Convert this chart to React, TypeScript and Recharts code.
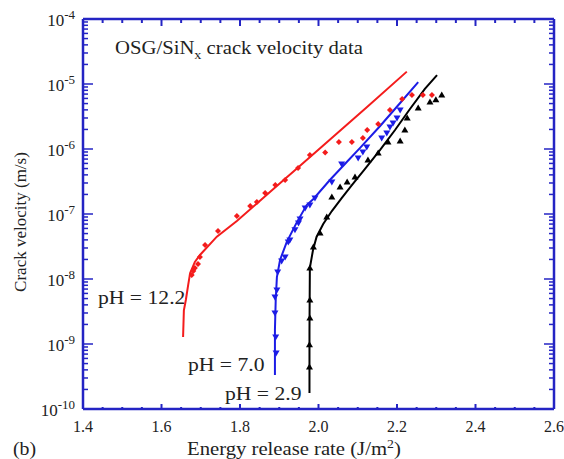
import {
  ComposedChart,
  Customized,
  Line,
  Scatter,
  XAxis,
  YAxis,
} from "recharts";

const AXIS = "#2424c4";
const RED = "#f41c1c";
const BLUE = "#1c1ce6";
const BLACK = "#000000";
const FONT = "'Liberation Serif', 'Times New Roman', serif";

// x ticks every 0.05, labels every 0.2
const xTicks = [
  1.4, 1.45, 1.5, 1.55, 1.6, 1.65, 1.7, 1.75, 1.8, 1.85, 1.9, 1.95, 2.0, 2.05,
  2.1, 2.15, 2.2, 2.25, 2.3, 2.35, 2.4, 2.45, 2.5, 2.55, 2.6,
];
const xLabels = [1.4, 1.6, 1.8, 2.0, 2.2, 2.4, 2.6];
const yDecades = [-10, -9, -8, -7, -6, -5, -4];
const yMinor = [2, 3, 4, 5, 6, 7, 8, 9];

// fitted curves
const redFit = [
  [1.655, 1.28e-9], [1.657, 3.3e-9], [1.662, 4.75e-9], [1.668, 8.1e-9],
  [1.673, 1.24e-8], [1.685, 1.83e-8], [1.698, 2.34e-8], [1.741, 4.48e-8],
  [1.792, 7.8e-8], [1.843, 1.45e-7], [1.885, 2.43e-7], [1.945, 5.0e-7],
  [2.004, 1.03e-6], [2.123, 4.38e-6], [2.225, 1.55e-5],
];
const blueFit = [
  [1.889, 3.33e-10], [1.889, 1.64e-9], [1.891, 4.75e-9], [1.894, 1.07e-8],
  [1.902, 1.96e-8], [1.919, 3.7e-8], [1.945, 7.5e-8], [1.97, 1.37e-7],
  [1.987, 1.7e-7], [2.029, 3.33e-7], [2.072, 6.3e-7], [2.106, 1.04e-6],
  [2.157, 2.26e-6], [2.208, 5.1e-6], [2.254, 1.07e-5],
];
const blackFit = [
  [1.977, 1.76e-10], [1.977, 1.64e-9], [1.978, 1.48e-8], [1.986, 2.79e-8],
  [1.995, 4.43e-8], [2.012, 7.0e-8], [2.034, 1.11e-7], [2.059, 1.76e-7],
  [2.085, 2.79e-7], [2.118, 4.92e-7], [2.157, 9.7e-7], [2.195, 1.96e-6],
  [2.233, 4.12e-6], [2.271, 8.4e-6], [2.302, 1.37e-5],
];

// measured points
const redPts = [
  [1.677, 1.15e-8], [1.681, 1.33e-8], [1.685, 1.48e-8], [1.693, 1.7e-8],
  [1.698, 2.18e-8], [1.711, 3.33e-8], [1.744, 5.47e-8], [1.792, 9.3e-8],
  [1.826, 1.33e-7], [1.843, 1.53e-7], [1.864, 2.1e-7], [1.89, 2.79e-7],
  [1.915, 3.33e-7], [1.948, 5.1e-7], [1.978, 8.1e-7], [2.017, 8.8e-7],
  [2.052, 1.28e-6], [2.085, 1.28e-6], [2.113, 1.48e-6], [2.124, 1.96e-6],
  [2.152, 2.43e-6], [2.182, 3.98e-6], [2.213, 5.9e-6], [2.238, 6.8e-6],
  [2.266, 6.8e-6], [2.289, 6.8e-6],
];
const bluePts = [
  [1.892, 7.28e-10], [1.891, 1.28e-9], [1.889, 3.0e-9], [1.889, 5.3e-9],
  [1.894, 6.8e-9], [1.896, 1.28e-8], [1.906, 1.89e-8], [1.915, 2.18e-8],
  [1.923, 3.7e-8], [1.927, 3.98e-8], [1.94, 5.7e-8], [1.949, 7.3e-8],
  [1.953, 8.4e-8], [1.966, 1.24e-7], [1.978, 1.37e-7], [1.991, 1.76e-7],
  [2.034, 3.1e-7], [2.059, 5.9e-7], [2.101, 7.3e-7], [2.113, 9.0e-7],
  [2.123, 1.07e-6], [2.161, 1.48e-6], [2.174, 1.76e-6], [2.182, 2.18e-6],
  [2.19, 2.51e-6], [2.2, 3.0e-6], [2.208, 3.98e-6],
];
const blackPts = [
  [1.977, 4.43e-10], [1.977, 9.7e-10], [1.978, 2.51e-9], [1.978, 4.75e-9],
  [1.978, 1.48e-8], [1.987, 3.1e-8], [2.004, 5.1e-8], [2.021, 9.0e-8],
  [2.034, 1.83e-7], [2.055, 2.6e-7], [2.073, 3.1e-7], [2.093, 3.7e-7],
  [2.126, 6.8e-7], [2.152, 8.7e-7], [2.177, 1.28e-6], [2.208, 1.33e-6],
  [2.22, 1.96e-6], [2.226, 3.0e-6], [2.254, 4.28e-6], [2.284, 5.3e-6],
  [2.299, 5.7e-6], [2.314, 6.8e-6],
];

const toXY = (arr: number[][]) => arr.map(([x, y]) => ({ x, y }));

const yTicks: number[] = [];
yDecades.forEach((d, i) => {
  yTicks.push(Math.pow(10, d));
  if (i < yDecades.length - 1) yMinor.forEach((m) => yTicks.push(m * Math.pow(10, d)));
});

const isMajorX = (v: number) => xLabels.some((l) => Math.abs(l - v) < 1e-6);
const isMajorY = (v: number) => {
  const l = Math.log10(v);
  return Math.abs(l - Math.round(l)) < 1e-6;
};

function BottomTick({ x, y, payload }: any) {
  const major = isMajorX(payload.value);
  return (
    <g>
      <line x1={x} x2={x} y1={y} y2={y - (major ? 5 : 2)} stroke={AXIS} strokeWidth={2} />
      {major && (
        <text x={x} y={y + 23} textAnchor="middle" fontSize={16} fontFamily={FONT} fill="#222">
          {payload.value.toFixed(1)}
        </text>
      )}
    </g>
  );
}

function TopTick({ x, y, payload }: any) {
  const major = isMajorX(payload.value);
  return <line x1={x} x2={x} y1={y} y2={y + (major ? 7 : 4)} stroke={AXIS} strokeWidth={2} />;
}

function LeftTick({ x, y, payload }: any) {
  const major = isMajorY(payload.value);
  const e = Math.round(Math.log10(payload.value));
  return (
    <g>
      <line x1={x} x2={x + (major ? 10 : 5)} y1={y} y2={y} stroke={AXIS} strokeWidth={1.5} />
      {major && (
        <text x={x - 8} y={y + 7} textAnchor="end" fontSize={17} fontFamily={FONT} fill="#222">
          10
          <tspan dy={-7} fontSize={13}>
            {"-" + Math.abs(e)}
          </tspan>
        </text>
      )}
    </g>
  );
}

function RightTick({ x, y, payload }: any) {
  const major = isMajorY(payload.value);
  return <line x1={x} x2={x - (major ? 10 : 5)} y1={y} y2={y} stroke={AXIS} strokeWidth={1.5} />;
}

const Diamond = ({ cx, cy }: any) => (
  <path d={`M${cx},${cy - 3} L${cx + 3},${cy} L${cx},${cy + 3} L${cx - 3},${cy} Z`} fill={RED} />
);
const TriDown = ({ cx, cy }: any) => (
  <path d={`M${cx - 3.5},${cy - 2.5} L${cx + 3.5},${cy - 2.5} L${cx},${cy + 3.5} Z`} fill={BLUE} />
);
const TriUp = ({ cx, cy }: any) => (
  <path d={`M${cx - 3.5},${cy + 2.5} L${cx + 3.5},${cy + 2.5} L${cx},${cy - 3.5} Z`} fill={BLACK} />
);

// the reference type is a little wider than Liberation Serif, so stretch it horizontally
function Stretched({ x, y, sx = 1.14, children }: any) {
  return <g transform={`translate(${x},${y}) scale(${sx},1)`}>{children}</g>;
}

function Annotations() {
  const t = { fontFamily: FONT, fill: "#222" };
  return (
    <g>
      <Stretched x={115} y={54} sx={1.09}>
        <text x={0} y={0} fontSize={19} {...t}>
          OSG/SiN
          <tspan dy={5} fontSize={13}>x</tspan>
          <tspan dy={-5}> crack velocity data</tspan>
        </text>
      </Stretched>
      <Stretched x={98} y={304}>
        <text x={0} y={0} fontSize={19} {...t}>pH = 12.2</text>
      </Stretched>
      <Stretched x={188} y={371}>
        <text x={0} y={0} fontSize={19} {...t}>pH = 7.0</text>
      </Stretched>
      <Stretched x={225} y={400}>
        <text x={0} y={0} fontSize={19} {...t}>pH = 2.9</text>
      </Stretched>
      <Stretched x={13} y={455} sx={1.1}>
        <text x={0} y={0} fontSize={18} {...t}>(b)</text>
      </Stretched>
      <Stretched x={187} y={455} sx={1.15}>
        <text x={0} y={0} fontSize={18} {...t}>
          Energy release rate (J/m
          <tspan dy={-7} fontSize={12}>2</tspan>
          <tspan dy={7}>)</tspan>
        </text>
      </Stretched>
      <text
        x={0}
        y={0}
        fontSize={17}
        textAnchor="middle"
        transform="translate(26,222) rotate(-90)"
        {...t}
      >
        Crack velocity (m/s)
      </text>
    </g>
  );
}

export default function App() {
  return (
    <div style={{ position: "absolute", left: 0, top: 0, width: 564, height: 459, background: "#fff" }}>
      <ComposedChart width={564} height={459} margin={{ top: 18, right: 9, left: 0, bottom: 0 }}>
        <XAxis
          dataKey="x"
          type="number"
          domain={[1.4, 2.6]}
          ticks={xTicks}
          interval={0}
          allowDataOverflow
          height={50}
          tickSize={0}
          tickMargin={0}
          tick={<BottomTick />}
          axisLine={{ stroke: AXIS, strokeWidth: 2.5 }}
          tickLine={false}
        />
        <XAxis
          xAxisId="top"
          orientation="top"
          dataKey="x"
          type="number"
          domain={[1.4, 2.6]}
          ticks={xTicks}
          interval={0}
          allowDataOverflow
          height={1}
          tickSize={0}
          tickMargin={0}
          tick={<TopTick />}
          axisLine={{ stroke: AXIS, strokeWidth: 2.5 }}
          tickLine={false}
        />
        <YAxis
          dataKey="y"
          type="number"
          scale="log"
          domain={[1e-10, 1e-4]}
          ticks={yTicks}
          interval={0}
          allowDataOverflow
          width={83}
          tickSize={0}
          tickMargin={0}
          tick={<LeftTick />}
          axisLine={{ stroke: AXIS, strokeWidth: 2.5 }}
          tickLine={false}
        />
        <YAxis
          yAxisId="right"
          orientation="right"
          type="number"
          scale="log"
          domain={[1e-10, 1e-4]}
          ticks={yTicks}
          interval={0}
          allowDataOverflow
          width={1}
          tickSize={0}
          tickMargin={0}
          tick={<RightTick />}
          axisLine={{ stroke: AXIS, strokeWidth: 2.5 }}
          tickLine={false}
        />
        <Line data={toXY(redFit)} dataKey="y" type="linear" stroke={RED} strokeWidth={2} dot={false} isAnimationActive={false} />
        <Line data={toXY(blueFit)} dataKey="y" type="linear" stroke={BLUE} strokeWidth={2} dot={false} isAnimationActive={false} />
        <Line data={toXY(blackFit)} dataKey="y" type="linear" stroke={BLACK} strokeWidth={2} dot={false} isAnimationActive={false} />
        <Scatter data={toXY(redPts)} dataKey="y" shape={<Diamond />} isAnimationActive={false} />
        <Scatter data={toXY(bluePts)} dataKey="y" shape={<TriDown />} isAnimationActive={false} />
        <Scatter data={toXY(blackPts)} dataKey="y" shape={<TriUp />} isAnimationActive={false} />
        <Customized component={<Annotations />} />
      </ComposedChart>
    </div>
  );
}
